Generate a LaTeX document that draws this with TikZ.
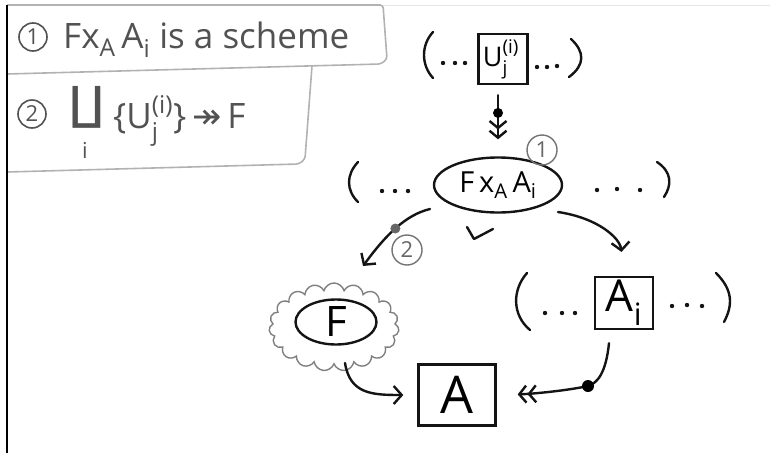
\documentclass[tikz,border=0pt]{standalone}
\usepackage{fontspec}
\setmainfont{Open Sans}
\newfontfamily\symfont{DejaVu Sans}
\usetikzlibrary{arrows.meta,shapes.geometric,shapes.symbols,calc}
\newcommand\sbsp[2]{\makebox[0pt][l]{\raisebox{0.15em}{\textsuperscript{#1}}}\makebox[0pt][l]{\raisebox{-0.1em}{\textsubscript{#2}}}\hphantom{\textsuperscript{#1}}}
\newcommand\fs[1]{\fontsize{#1}{#1}\selectfont}
\begin{document}
\begin{tikzpicture}[x=1pt,y=-1pt,
  ink/.style={draw=black!92, line width=2.4pt, line cap=round, line join=round},
  tipa/.style={-{Straight Barb[length=8pt,width=18pt]}},
  dtipa/.style={-{Straight Barb[length=7pt,width=17pt] Straight Barb[length=7pt,width=17pt]}},
  paper/.style={draw=black!30, line width=1.6pt, line join=round, rounded corners=3pt},
  hbox/.style={draw=black!92, line width=2.4pt, rectangle, inner sep=0pt},
  hell/.style={draw=black!92, line width=2.4pt, ellipse, inner sep=0pt},
  note/.style={circle, draw=black!55, text=black!60, line width=1.4pt, minimum size=30pt, inner sep=0pt, font=\fs{22}},
  bignote/.style={circle, draw=black!68, text=black!68, line width=1.6pt, minimum size=28pt, inner sep=0pt, font=\fs{22}},
  toptext/.style={anchor=base west, text=black!68, inner sep=0pt, font=\fs{35}}
]
\useasboundingbox (0,0) rectangle (770,453);
% paper strips
\draw[black!10, line width=1pt] (7,5) -- (770,5);
\draw[paper] (7,5) -- (383,5) -- (387,59) -- (381,64) -- (7,74);
\draw[paper] (312,66) -- (305,159) -- (299,164) -- (7,172);
\draw[black, line width=1.8pt] (7,5) -- (7,453);
% top notes
\node[bignote] (n1) at (33,37) {1};
\node[toptext] (t1) at (63,48) {Fx\textsubscript{A}\,A\textsubscript{i} is a scheme};
\node[bignote] (n2) at (32,114) {2};
\node[anchor=base, text=black!68, inner sep=0pt, font=\symfont\fs{46}] (cop) at (87,119) {∐};
\node[anchor=base, text=black!68, inner sep=0pt, font=\fs{22}] (ci) at (85,158) {i};
\node[toptext] (t2) at (113,128) {\{U\sbsp{(i)}{j}\}\,{\symfont ↠}\,F};
% diagram nodes
\node[hbox, minimum width=49pt, minimum height=50pt, font=\fs{27}] (ubox) at (503,59) {\hspace{-4pt}U\sbsp{(i)}{j}};
\node[hell, minimum width=128pt, minimum height=55pt, font=\fs{29}] (fxa) at (498,185) {F\,x\textsubscript{A}\,A\textsubscript{i}};
\node[note] (c1) at (542,150) {1};
\node[note] (c2) at (407,250) {2};
\node[cloud, draw=black!50, line width=1.4pt, cloud puffs=19, cloud puff arc=150, aspect=1.5, minimum width=130pt, minimum height=88pt] (cloud) at (334,327) {};
\node[hell, minimum width=81pt, minimum height=45pt, font=\fs{42}] (fnode) at (336,322) {F};
\node[hbox, minimum width=58pt, minimum height=52pt, font=\fs{44}] (aibox) at (624,303) {A\textsubscript{i}};
\node[hbox, minimum width=77pt, minimum height=61pt, font=\fs{52}] (abox) at (457,395) {A};
% parentheses and dots
\draw[ink] (433,32) .. controls (421,45) and (421,65) .. (433,78);
\draw[ink] (571,39) .. controls (585,52) and (585,65) .. (569,77);
\draw[ink] (358,162) .. controls (346,175) and (346,190) .. (358,202);
\draw[ink] (657,162) .. controls (672,172) and (672,185) .. (664,197);
\draw[ink] (527,273) .. controls (512,290) and (512,315) .. (530,330);
\draw[ink] (716,273) .. controls (733,290) and (733,305) .. (724,322);
\foreach \p in {(443,63),(455,63),(465,63),(537,67),(547,67),(557,66),
                (382,191),(395,191),(408,191),(597,190),(617,189),(640,190),
                (545,313),(562,313),(575,313),(672,306),(687,305),(702,306)}
  \fill[black!92] \p circle (2.2pt);
% check mark
\draw[ink] (467,227) -- (474,239) -- (493,229);
% connectors
\draw[ink, dtipa, shorten <=10pt, shorten >=17pt] (ubox.south -| fxa.north) -- coordinate[pos=0.39] (d1) (fxa.north);
\fill[black] (d1) circle (5pt);
\coordinate (tipF) at (363,266);
\draw[ink, tipa] ($(fxa.center)+(-68,24)$) .. controls (405,215) and (385,236) .. coordinate[pos=0.5] (d2) (tipF);
\fill[black!60] (d2) circle (5pt);
\draw[ink, tipa, shorten >=24pt] ($(fxa.center)+(60,27)$) .. controls (598,218) and (620,238) .. (aibox.north);
\draw[ink, tipa, shorten >=14pt] ($(cloud.center)+(11,36)$) .. controls (350,394) and (372,395) .. (abox.west);
\coordinate (d3) at (588,386);
\draw[ink] ($(aibox.south)+(-15,13)$) .. controls (606,372) and (598,383) .. (d3);
\draw[ink, dtipa, shorten >=21pt] (d3) .. controls (565,391) and (530,394) .. (abox.east);
\fill[black] (d3) circle (6pt);
\end{tikzpicture}
\end{document}
